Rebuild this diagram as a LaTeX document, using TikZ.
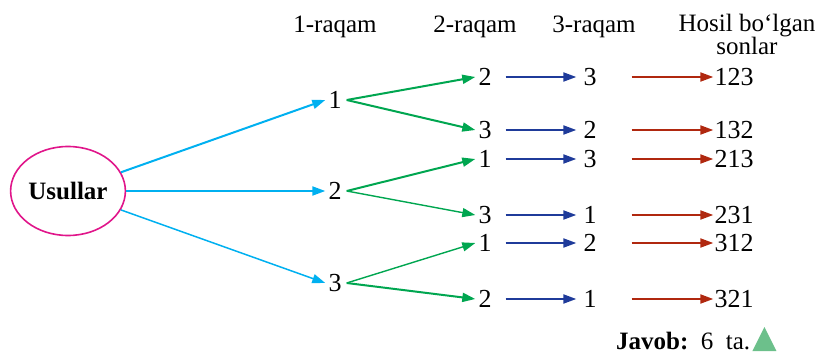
\documentclass[tikz,border=0pt]{standalone}
\usepackage{fontspec}
\setmainfont{Liberation Serif}
\usetikzlibrary{arrows.meta,shapes.geometric}
\definecolor{cyanA}{HTML}{00B0F0}
\definecolor{greenA}{HTML}{00A650}
\definecolor{blueA}{HTML}{1F3B9A}
\definecolor{redA}{HTML}{B0280F}
\definecolor{magA}{HTML}{E0158A}
\definecolor{triA}{HTML}{6CC08B}
\begin{document}
\begin{tikzpicture}[x=1pt,y=-1pt,
  every node/.style={font=\fontsize{25}{25}\selectfont, inner sep=1pt},
  dignode/.style={font=\fontsize{26}{26}\selectfont},
  arr/.style={line width=2pt, -{Triangle[length=13pt,width=9pt]}},
  cyanarr/.style={arr, draw=cyanA, fill=cyanA},
  greenarr/.style={arr, draw=greenA},
  bluearr/.style={arr, draw=blueA},
  redarr/.style={arr, draw=redA}]
\useasboundingbox (0,0) rectangle (823,353);
% header
\node[anchor=base] (h1) at (335,33) {1-raqam};
\node[anchor=base] (h2) at (475,33) {2-raqam};
\node[anchor=base] (h3) at (594,33) {3-raqam};
\node[anchor=base, align=center, font=\fontsize{25}{22}\selectfont] (h4) at (747,55) {Hosil bo‘lgan\\sonlar};
% root
\node[draw=magA, line width=1.6pt, ellipse, minimum width=111pt, minimum height=89pt, font=\fontsize{25}{25}\selectfont\bfseries] (us) at (68,191) {Usullar};
% level 1
\node[dignode] (a1) at (335,100) {1};
\node[dignode] (a2) at (335,191) {2};
\node[dignode] (a3) at (335,283) {3};
% level 2
\node[dignode] (b1) at (485,77) {2};
\node[dignode] (b2) at (485,130) {3};
\node[dignode] (b3) at (485,159) {1};
\node[dignode] (b4) at (485,215) {3};
\node[dignode] (b5) at (485,243) {1};
\node[dignode] (b6) at (485,299) {2};
% level 3
\node[dignode] (c1) at (590,77) {3};
\node[dignode] (c2) at (590,130) {2};
\node[dignode] (c3) at (590,159) {3};
\node[dignode] (c4) at (590,215) {1};
\node[dignode] (c5) at (590,243) {2};
\node[dignode] (c6) at (590,299) {1};
% results
\node[dignode] (d1) at (734,77) {123};
\node[dignode] (d2) at (734,130) {132};
\node[dignode] (d3) at (734,159) {213};
\node[dignode] (d4) at (734,215) {231};
\node[dignode] (d5) at (734,243) {312};
\node[dignode] (d6) at (734,299) {321};
% cyan
\draw[cyanarr] (us) -- ([xshift=-2pt]a1.west);
\draw[cyanarr] (us) -- ([xshift=-2pt]a2.west);
\draw[cyanarr, line width=1.5pt] (us) -- ([xshift=-2pt]a3.west);
% green
\draw[greenarr] ([xshift=4pt]a1.east) -- ([xshift=-2pt]b1.west);
\draw[greenarr] ([xshift=4pt]a1.east) -- ([xshift=-2pt]b2.west);
\draw[greenarr] ([xshift=4pt]a2.east) -- ([xshift=-2pt]b3.west);
\draw[greenarr, line width=1.4pt] ([xshift=4pt]a2.east) -- ([xshift=-2pt]b4.west);
\draw[greenarr, line width=1.4pt] ([xshift=4pt]a3.east) -- ([xshift=-2pt]b5.west);
\draw[greenarr] ([xshift=4pt]a3.east) -- ([xshift=-2pt]b6.west);
% blue and red
\foreach \i in {1,...,6}{
  \draw[bluearr] ([xshift=13pt]b\i.east) -- ([xshift=-6pt]c\i.west);
  \draw[redarr] ([xshift=34pt]c\i.east) -- (d\i.west);
}
% answer
\node[anchor=base west, inner sep=0pt] (jv) at (616,349) {\textbf{Javob:}\ \ 6\ \ ta.};
\fill[triA] ([xshift=2pt]jv.base east) ++(0,2) coordinate (t0) -- ++(24,0) -- ++(-12,-24) -- cycle;
\end{tikzpicture}
\end{document}
